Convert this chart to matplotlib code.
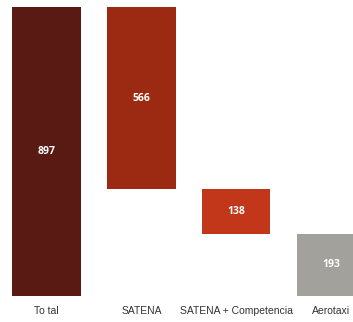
import matplotlib.pyplot as plt

categories = ["To tal", "SATENA", "SATENA + Competencia", "Aerotaxi"]
values = [897, 566, 138, 193]
colors = ["#581a13", "#9c2a12", "#c2361a", "#a3a19b"]

# waterfall: total first, then each part hangs from what is left
bottoms = [0]
remaining = values[0]
for v in values[1:]:
    remaining -= v
    bottoms.append(remaining)

fig = plt.figure(figsize=(3.53, 3.22), dpi=100)
ax = fig.add_axes([0, 0.081, 1, 0.919])

x = range(len(values))
bars = ax.bar(x, values, width=0.72, bottom=bottoms, color=colors)

for i, rect in enumerate(bars):
    ax.text(rect.get_x() + rect.get_width() / 2, bottoms[i] + values[i] / 2,
            str(values[i]), ha="center", va="center", color="white",
            fontsize=7.5, fontweight="bold", family="Open Sans")

ax.set_xlim(-0.49, 3.23)
ax.set_ylim(0, 919)
ax.set_xticks(list(x))
ax.set_xticklabels(categories, fontsize=7.5, family="Liberation Sans", color="#333333")
ax.get_xticklabels()[-1].set_x(2.92)
ax.tick_params(axis="x", length=0, pad=7)
ax.set_yticks([])
for s in ax.spines.values():
    s.set_visible(False)

fig.savefig("out.png", dpi=100)
